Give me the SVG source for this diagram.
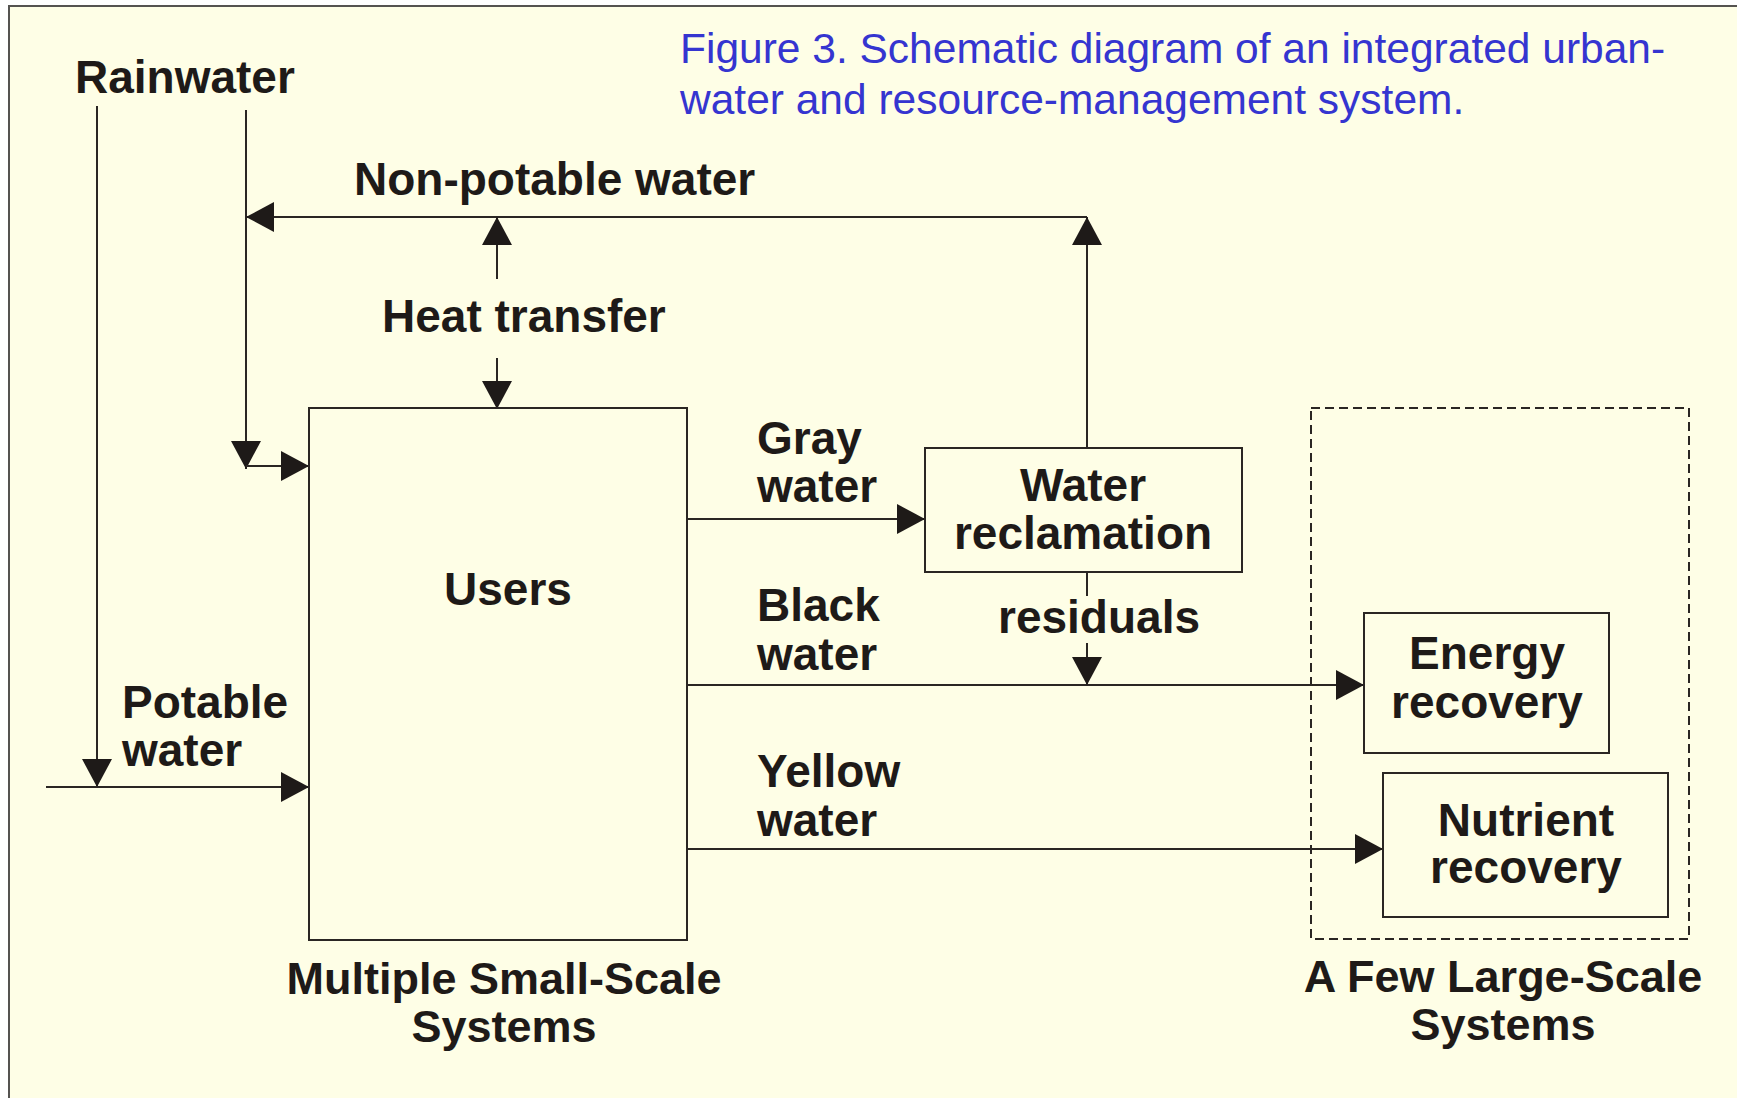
<svg xmlns="http://www.w3.org/2000/svg" width="1737" height="1098" viewBox="0 0 1737 1098">
  <style>
    .lbl { font-family: "Liberation Sans", Arial, Helvetica, sans-serif; font-weight: bold; font-size: 46px; fill: #1e1a18; }
    .cap { font-size: 45px; }
    .mid { text-anchor: middle; }
    .title { font-family: "Liberation Sans", Arial, Helvetica, sans-serif; font-size: 42.5px; fill: #3535d0; }
    .box { fill: none; stroke: #2a2623; stroke-width: 2; }
    .dash { fill: none; stroke: #2a2623; stroke-width: 2; stroke-dasharray: 9 5; }
    .flow { fill: none; stroke: #2a2623; stroke-width: 2; }
    .arr { marker-end: url(#head); }
  </style>
  <defs>
    <marker id="head" markerUnits="userSpaceOnUse" markerWidth="30" markerHeight="30" refX="28" refY="15" orient="auto" viewBox="0 0 30 30">
      <path d="M0,0 L28,15 L0,30 Z" fill="#1e1a18"/>
    </marker>
  </defs>

  <!-- page and frame -->
  <rect x="0" y="0" width="1737" height="1098" fill="#ffffff"/>
  <rect x="9" y="6" width="1740" height="1100" fill="#fefee6" stroke="#555350" stroke-width="2"/>

  <!-- caption -->
  <g id="caption">
    <text class="title" x="680" y="63">Figure 3. Schematic diagram of an integrated urban-</text>
    <text class="title" x="680" y="114">water and resource-management system.</text>
  </g>

  <!-- connectors -->
  <g id="connectors">
    <!-- rainwater to potable supply -->
    <line class="flow arr" x1="97" y1="106" x2="97" y2="787"/>
    <!-- potable supply into users -->
    <line class="flow arr" x1="46" y1="787" x2="309" y2="787"/>
    <!-- rainwater / non-potable down to users -->
    <line class="flow arr" x1="246" y1="110" x2="246" y2="469"/>
    <line class="flow arr" x1="246" y1="466" x2="309" y2="466"/>
    <!-- non-potable return line -->
    <line class="flow arr" x1="1087" y1="217" x2="246" y2="217"/>
    <!-- heat transfer both ways -->
    <line class="flow arr" x1="497" y1="279" x2="497" y2="217"/>
    <line class="flow arr" x1="497" y1="358" x2="497" y2="409"/>
    <!-- reclamation up to non-potable line -->
    <line class="flow arr" x1="1087" y1="448" x2="1087" y2="217"/>
    <!-- gray water -->
    <line class="flow arr" x1="687" y1="519" x2="925" y2="519"/>
    <!-- black water -->
    <line class="flow arr" x1="687" y1="685" x2="1364" y2="685"/>
    <!-- residuals -->
    <line class="flow" x1="1087" y1="572" x2="1087" y2="596"/>
    <line class="flow arr" x1="1087" y1="643" x2="1087" y2="685"/>
    <!-- yellow water -->
    <line class="flow arr" x1="687" y1="849" x2="1383" y2="849"/>
  </g>

  <!-- flow labels -->
  <g id="labels">
    <text class="lbl" x="75" y="93">Rainwater</text>
    <text class="lbl" x="354" y="195">Non-potable water</text>
    <text class="lbl" x="382" y="332">Heat transfer</text>
    <text class="lbl" x="757" y="454">Gray</text>
    <text class="lbl" x="757" y="502">water</text>
    <text class="lbl" x="757" y="621">Black</text>
    <text class="lbl" x="757" y="670">water</text>
    <text class="lbl" x="757" y="787">Yellow</text>
    <text class="lbl" x="757" y="836">water</text>
    <text class="lbl" x="122" y="718">Potable</text>
    <text class="lbl" x="122" y="766">water</text>
    <text class="lbl" x="998" y="633">residuals</text>
  </g>

  <g id="users">
    <rect class="box" x="309" y="408" width="378" height="532"/>
    <text class="lbl" x="444" y="605">Users</text>
  </g>

  <g id="water-reclamation">
    <rect class="box" x="925" y="448" width="317" height="124"/>
    <text class="lbl mid" x="1083" y="501">Water</text>
    <text class="lbl mid" x="1083" y="549">reclamation</text>
  </g>

  <g id="large-scale">
    <rect class="dash" x="1311" y="408" width="378" height="531"/>
  </g>

  <g id="energy-recovery">
    <rect class="box" x="1364" y="613" width="245" height="140"/>
    <text class="lbl mid" x="1487" y="669">Energy</text>
    <text class="lbl mid" x="1487" y="718">recovery</text>
  </g>

  <g id="nutrient-recovery">
    <rect class="box" x="1383" y="773" width="285" height="144"/>
    <text class="lbl mid" x="1526" y="836">Nutrient</text>
    <text class="lbl mid" x="1526" y="883">recovery</text>
  </g>

  <g id="scale-captions">
    <text class="lbl cap mid" x="504" y="994">Multiple Small-Scale</text>
    <text class="lbl cap mid" x="504" y="1042">Systems</text>
    <text class="lbl cap mid" x="1503" y="992">A Few Large-Scale</text>
    <text class="lbl cap mid" x="1503" y="1040">Systems</text>
  </g>
</svg>
